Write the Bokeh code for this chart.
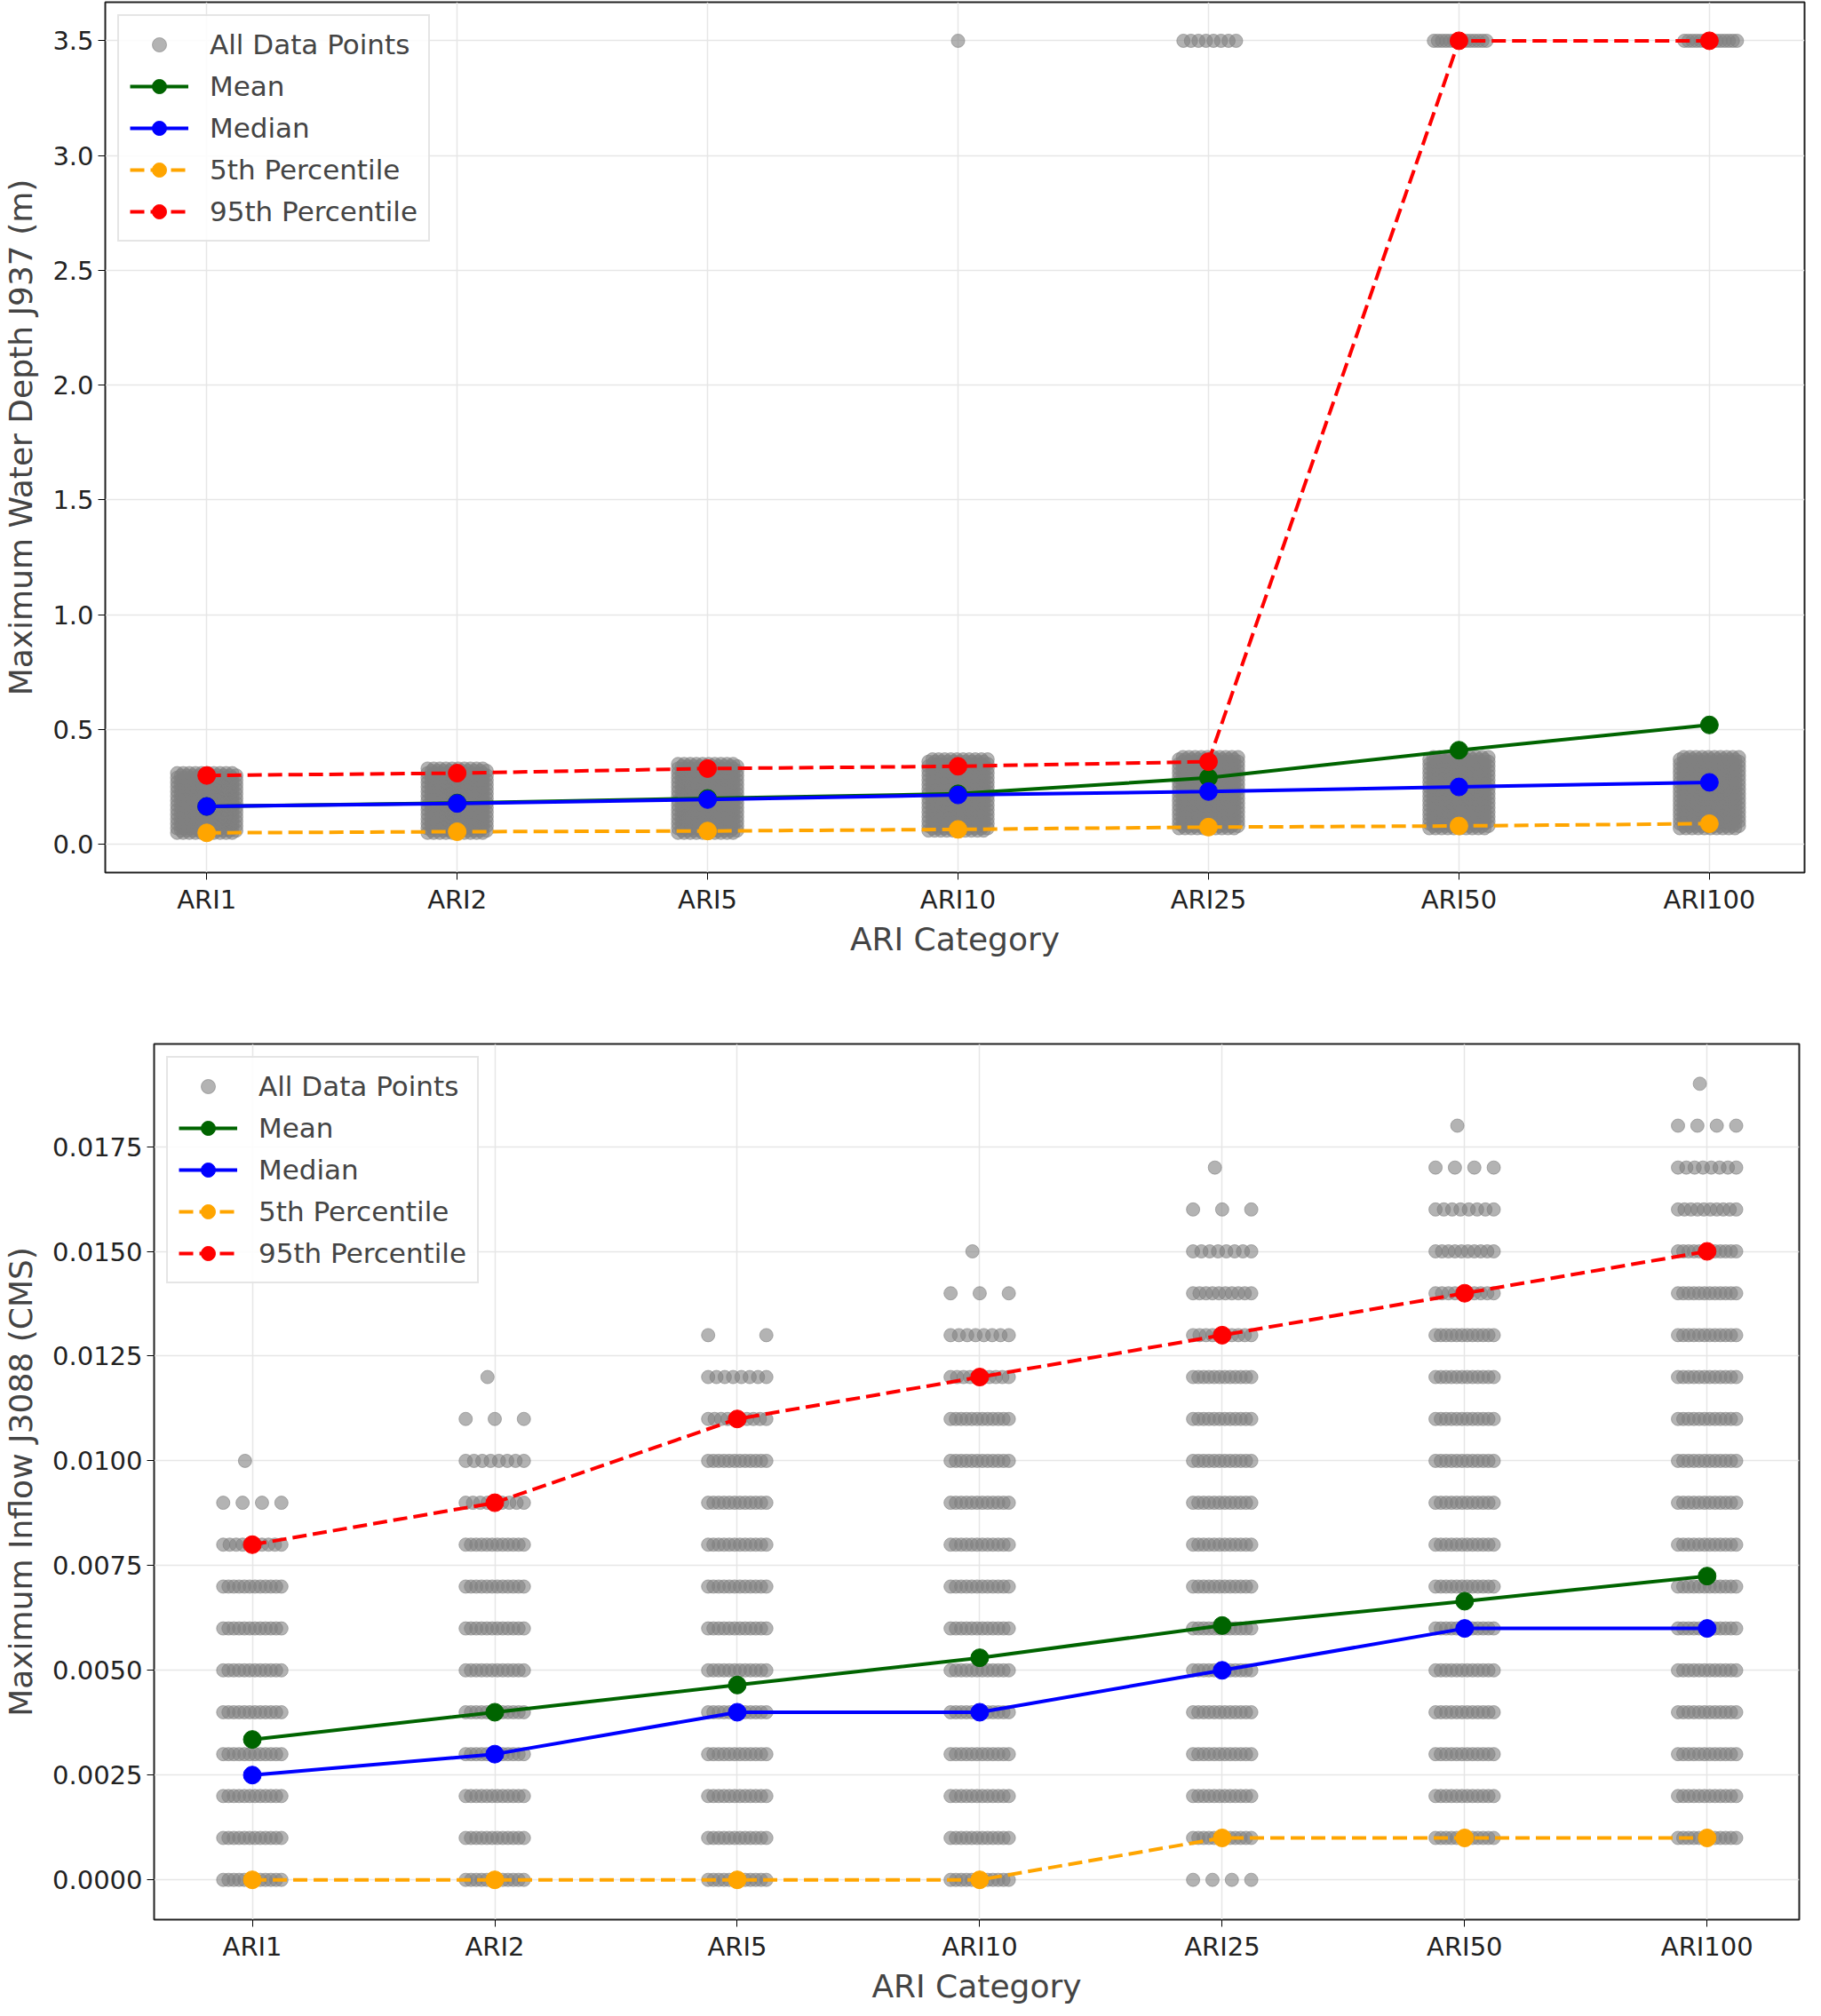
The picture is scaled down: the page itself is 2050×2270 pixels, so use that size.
import numpy as np
from bokeh.plotting import figure
from bokeh.models import Range1d, FixedTicker, Legend, LegendItem
from bokeh.embed import file_html
from bokeh.resources import INLINE

categories = ["ARI1", "ARI2", "ARI5", "ARI10", "ARI25", "ARI50", "ARI100"]

# Top chart: Maximum Water Depth J937 (m)
top_mean = [0.165, 0.18, 0.20, 0.22, 0.29, 0.41, 0.52]
top_median = [0.165, 0.178, 0.195, 0.215, 0.23, 0.25, 0.27]
top_p5 = [0.05, 0.055, 0.058, 0.065, 0.075, 0.08, 0.09]
top_p95 = [0.30, 0.31, 0.33, 0.34, 0.36, 3.5, 3.5]
top_blob_lo = [0.05, 0.05, 0.05, 0.06, 0.07, 0.07, 0.07]
top_blob_hi = [0.31, 0.33, 0.35, 0.37, 0.38, 0.38, 0.38]
top_outlier_count = [0, 0, 0, 1, 8, 14, 14]
top_outlier_value = 3.5

# Bottom chart: Maximum Inflow J3088 (CMS), discrete levels (x0.001) and point counts per row
bot_levels = [
    [0, 1, 2, 3, 4, 5, 6, 7, 8, 9, 10],
    [0, 1, 2, 3, 4, 5, 6, 7, 8, 9, 10, 11, 12],
    [0, 1, 2, 3, 4, 5, 6, 7, 8, 9, 10, 11, 12, 13],
    [0, 1, 2, 3, 4, 5, 6, 7, 8, 9, 10, 11, 12, 13, 14, 15],
    [0, 1, 2, 3, 4, 5, 6, 7, 8, 9, 10, 11, 12, 13, 14, 15, 16, 17],
    [1, 2, 3, 4, 5, 6, 7, 8, 9, 10, 11, 12, 13, 14, 15, 16, 17, 18],
    [1, 2, 3, 4, 5, 6, 7, 8, 9, 10, 11, 12, 13, 14, 15, 16, 17, 18, 19],
]
bot_counts = [
    [12, 12, 12, 12, 12, 12, 12, 12, 10, 4, 1],
    [12, 12, 12, 12, 12, 12, 12, 12, 12, 9, 8, 3, 1],
    [12, 12, 12, 12, 12, 12, 12, 12, 12, 12, 12, 10, 8, 2],
    [12, 12, 12, 12, 12, 12, 12, 12, 12, 12, 12, 12, 10, 8, 3, 1],
    [4, 12, 12, 12, 12, 12, 12, 12, 12, 12, 12, 12, 12, 10, 10, 8, 3, 1],
    [12, 12, 12, 12, 12, 12, 12, 12, 12, 12, 12, 12, 12, 10, 10, 8, 4, 1],
    [12, 12, 12, 12, 12, 12, 12, 12, 12, 12, 12, 12, 12, 12, 12, 10, 8, 4, 1],
]
bot_mean = [0.00335, 0.0040, 0.00465, 0.0053, 0.00607, 0.00665, 0.00725]
bot_median = [0.0025, 0.003, 0.004, 0.004, 0.005, 0.006, 0.006]
bot_p5 = [0.0, 0.0, 0.0, 0.0, 0.001, 0.001, 0.001]
bot_p95 = [0.008, 0.009, 0.011, 0.012, 0.013, 0.014, 0.015]

FONT = "DejaVu Sans"
xs = list(range(len(categories)))


def make_fig(y_range, yticks, ylabel, left_border, frame_w, frame_h, top_b, bot_b, fmt):
    p = figure(output_backend="svg", toolbar_location=None,
               frame_width=frame_w, frame_height=frame_h,
               min_border_left=left_border, min_border_right=10,
               min_border_top=top_b, min_border_bottom=bot_b,
               x_range=Range1d(-0.405, 6.38), y_range=Range1d(*y_range))
    p.xaxis.ticker = FixedTicker(ticks=xs)
    p.xaxis.major_label_overrides = {i: c for i, c in enumerate(categories)}
    p.yaxis.ticker = FixedTicker(ticks=yticks)
    p.yaxis.major_label_overrides = {t: fmt.format(t) for t in yticks}
    p.xaxis.axis_label = "ARI Category"
    p.yaxis.axis_label = ylabel
    for ax in (p.xaxis, p.yaxis):
        ax.axis_label_text_font = FONT
        ax.axis_label_text_font_size = "36px"
        ax.axis_label_text_font_style = "normal"
        ax.major_label_text_font = FONT
        ax.major_label_text_font_size = "29px"
        ax.major_label_text_color = "#222222"
        ax.minor_tick_line_color = None
        ax.major_tick_out = 8
        ax.major_tick_in = 0
        ax.axis_line_color = None
    p.xaxis.axis_label_standoff = 4
    p.yaxis.axis_label_standoff = 12
    p.outline_line_color = "#222222"
    p.outline_line_width = 2
    p.grid.grid_line_color = "#e6e6e6"
    p.grid.grid_line_width = 1.5
    return p


def add_series(p, sx, sy, mean, median, p5, p95):
    items = []
    r = p.scatter(sx, sy, size=15, fill_color="gray", line_color="gray", fill_alpha=0.6, line_alpha=0.6)
    items.append(("All Data Points", [r]))
    specs = [("Mean", mean, "darkgreen", "solid"), ("Median", median, "blue", "solid"),
             ("5th Percentile", p5, "orange", "dashed"), ("95th Percentile", p95, "red", "dashed")]
    for name, vals, col, dash in specs:
        l = p.line(xs, vals, line_color=col, line_width=4, line_dash=("16 7" if dash == "dashed" else "solid"))
        c = p.scatter(xs, vals, size=20, fill_color=col, line_color=col)
        items.append((name, [l, c]))
    leg = Legend(items=[LegendItem(label=n, renderers=rs) for n, rs in items], location="top_left")
    leg.label_text_font = FONT
    leg.label_text_font_size = "31px"
    leg.glyph_width = 66
    leg.glyph_height = 40
    leg.label_height = 40
    leg.label_standoff = 24
    leg.spacing = 7
    leg.padding = 12
    leg.margin = 14
    leg.border_line_color = "#cccccc"
    leg.border_line_width = 2
    leg.background_fill_alpha = 0.85
    p.add_layout(leg)


# top data points
tx, ty = [], []
for i in xs:
    lv = np.arange(top_blob_lo[i], top_blob_hi[i] + 1e-9, 0.01)
    offs = np.linspace(-0.11, 0.11, 10)
    for k, y in enumerate(lv):
        for o in offs:
            tx.append(i + o + (0.008 if k % 2 else -0.008))
            ty.append(y)
    n = top_outlier_count[i]
    if n:
        for o in (np.linspace(-0.1, 0.11, n) if n > 1 else [0.0]):
            tx.append(i + o)
            ty.append(top_outlier_value)

p1 = make_fig((-0.123, 3.668), [0.0, 0.5, 1.0, 1.5, 2.0, 2.5, 3.0, 3.5], "Maximum Water Depth J937 (m)",
              112, 1913, 980, 2, 95, "{:.1f}")
add_series(p1, tx, ty, top_mean, top_median, top_p5, top_p95)

bx, by = [], []
for i in xs:
    for lv, n in zip(bot_levels[i], bot_counts[i]):
        offs = np.linspace(-0.12, 0.12, n) if n > 1 else [-0.03]
        for o in offs:
            bx.append(i + o)
            by.append(lv * 0.001)

p2 = make_fig((-0.00095, 0.01995), [0.0, 0.0025, 0.005, 0.0075, 0.01, 0.0125, 0.015, 0.0175],
              "Maximum Inflow J3088 (CMS)", 173, 1852, 986, 95, 90, "{:.4f}")
add_series(p2, bx, by, bot_mean, bot_median, bot_p5, bot_p95)

open("out.html", "w").write(file_html([p1, p2], INLINE))
